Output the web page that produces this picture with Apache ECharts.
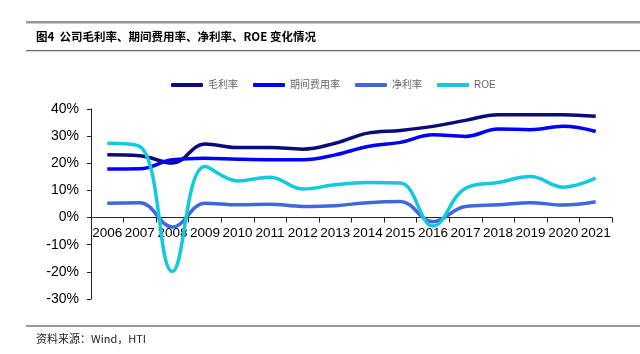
<!DOCTYPE html>
<html>
<head>
<meta charset="utf-8">
<script src="https://cdn.jsdelivr.net/npm/echarts@6/dist/echarts.min.js"></script>
<style>
  html, body { margin: 0; padding: 0; background: #fff; }
  #chart { width: 640px; height: 354px; }
</style>
</head>
<body>
<div id="chart"></div>
<script>
// years on the x axis
var years = ['2006', '2007', '2008', '2009', '2010', '2011', '2012', '2013',
             '2014', '2015', '2016', '2017', '2018', '2019', '2020', '2021'];

// values in %
var grossMargin = [23.1, 22.8, 20.1, 27.1, 25.8, 25.8, 25.2, 27.4, 31.1, 32.1, 33.6, 35.8, 37.9, 37.9, 37.9, 37.3];
var expenseRate = [17.9, 18.0, 21.3, 21.9, 21.5, 21.3, 21.3, 23.1, 26.2, 27.7, 30.5, 29.9, 32.6, 32.4, 33.6, 31.7];
var netMargin = [5.3, 5.5, -3.5, 5.3, 4.7, 4.9, 4.1, 4.4, 5.5, 5.9, -1.5, 4.1, 4.7, 5.5, 4.6, 5.8];
var roe = [27.4, 26.2, -19.9, 18.8, 13.5, 14.9, 10.5, 12.1, 12.9, 12.7, -3.1, 10.8, 12.9, 15.1, 11.2, 14.5];

var seriesNames = ['毛利率', '期间费用率', '净利率', 'ROE'];
var seriesColors = ['#0b0b7c', '#0000ff', '#3f68e0', '#14c9dc'];
var seriesData = [grossMargin, expenseRate, netMargin, roe];

var yMin = -30, yMax = 40;
var gridTop = 109, gridBottom = 55, chartH = 354;
// lift the x axis up to the 0 line
var zeroOffset = -(chartH - gridTop - gridBottom) * (0 - yMin) / (yMax - yMin);

var cjk = '"Noto Sans CJK SC", sans-serif';
var latin = '"Liberation Sans", Arial, "Noto Sans CJK SC", sans-serif';

var chart = echarts.init(document.getElementById('chart'));

var option = {
  backgroundColor: '#fff',
  animation: false,
  graphic: [
    { type: 'rect', shape: { x: 26, y: 21, width: 614, height: 2.5 }, style: { fill: '#9a9a9a' } },
    { type: 'text', left: 36, top: 31, style: { text: '图4  公司毛利率、期间费用率、净利率、ROE 变化情况', font: 'bold 11.5px ' + cjk, fill: '#000' } },
    { type: 'rect', shape: { x: 26, y: 50, width: 614, height: 1.2 }, style: { fill: '#6a6a6a' } },
    { type: 'rect', shape: { x: 26, y: 325.5, width: 614, height: 1 }, style: { fill: '#333' } },
    { type: 'text', left: 36, top: 333, style: { text: '资料来源：Wind，HTI', font: '11px ' + cjk, fill: '#222' } }
  ],
  legend: {
    data: seriesNames,
    left: 166,
    top: 75,
    itemWidth: 32,
    itemHeight: 4,
    itemGap: 15,
    icon: 'roundRect',
    textStyle: { color: '#666', fontSize: 10, fontFamily: latin }
  },
  grid: { left: 91, right: 28, top: gridTop, bottom: gridBottom },
  xAxis: {
    type: 'category',
    data: years,
    offset: zeroOffset,
    axisLine: { onZero: false, lineStyle: { color: '#222', width: 1 } },
    axisTick: { show: true, length: 5, lineStyle: { color: '#222' } },
    axisLabel: { color: '#000', fontSize: 13.5, fontFamily: latin, margin: 9, interval: 0 }
  },
  yAxis: {
    type: 'value',
    min: yMin,
    max: yMax,
    interval: 10,
    axisLine: { show: true, lineStyle: { color: '#222', width: 1 } },
    axisTick: { show: true, length: 4, lineStyle: { color: '#222' } },
    axisLabel: { color: '#000', fontSize: 14, fontFamily: latin, margin: 12, formatter: '{value}%' },
    splitLine: { show: false }
  },
  series: seriesNames.map(function (name, i) {
    return {
      name: name,
      type: 'line',
      data: seriesData[i],
      smooth: 0.4,
      showSymbol: false,
      color: seriesColors[i],
      lineStyle: { width: 3.5, color: seriesColors[i] }
    };
  })
};

chart.setOption(option);
</script>
</body>
</html>
